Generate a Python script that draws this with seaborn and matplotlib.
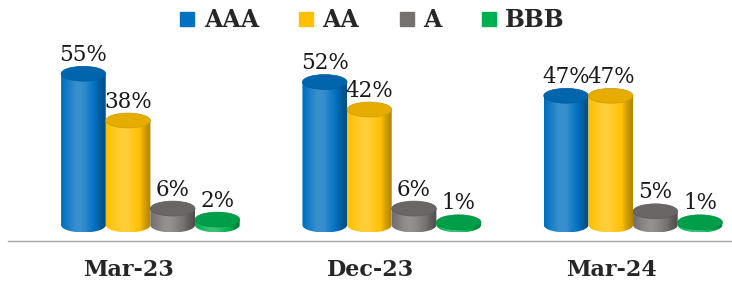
import numpy as np
import pandas as pd
import matplotlib
matplotlib.use('Agg')
import matplotlib.pyplot as plt
import matplotlib.colors as mcolors
from matplotlib.patches import Ellipse, Polygon
from matplotlib.lines import Line2D
import seaborn as sns

periodos = ['Mar-23', 'Dec-23', 'Mar-24']
ratings = ['AAA', 'AA', 'A', 'BBB']
aaa = [55, 52, 47]
aa = [38, 42, 47]
a = [6, 6, 5]
bbb = [2, 1, 1]
cores = ['#0070C0', '#FFC000', '#767171', '#00B050']

tabela = pd.DataFrame({
    'periodo': periodos * 4,
    'rating': sum([[r] * 3 for r in ratings], []),
    'valor': aaa + aa + a + bbb,
})

sns.set_style('white')
plt.rcParams['font.family'] = ['DejaVu Serif']

fig = plt.figure(figsize=(7.32, 2.85), dpi=100)
ax = fig.add_axes([8 / 732, 1 - 241 / 285, 1 - 8 / 732, 211 / 285])

sns.barplot(data=tabela, x='periodo', y='valor', hue='rating', order=periodos,
            hue_order=ratings, palette=cores, width=0.74, ax=ax, legend=False)

ax.set_xlim(-0.5, 2.5)
ax.set_ylim(-5.8, 70.9)

desloc = 0.09  # cilindros levemente deslocados p/ direita
eh = 5.4  # altura da elipse em unidades de dados


def sombra(cor, n=64):
    rgb = np.array(mcolors.to_rgb(cor))
    t = np.linspace(0, 1, n)
    f = np.exp(-((t - 0.4) / 0.3) ** 2) * 1.0 - 0.4 * (t ** 2) - 0.2 * ((1 - t) ** 3)
    linhas = []
    for v in f:
        if v >= 0:
            linhas.append(rgb + (1 - rgb) * 0.25 * v)
        else:
            linhas.append(rgb * (1 + 0.8 * v))
    return np.clip(np.array(linhas), 0, 1)[np.newaxis, :, :]


for k, cont in enumerate(ax.containers):
    cor = cores[k]
    for barra in cont:
        x0 = barra.get_x() + desloc
        w = barra.get_width()
        h = barra.get_height()
        barra.set_visible(False)
        xc = x0 + w / 2
        # contorno do corpo: topo reto, laterais, meia elipse embaixo
        ang = np.linspace(0, np.pi, 40)
        base = np.column_stack([xc + (w / 2) * np.cos(ang), -(eh / 2) * np.sin(ang)])
        pts = np.vstack([[x0 + w, h], base, [x0, h]])
        corpo = Polygon(pts, closed=True, facecolor='none', edgecolor='none')
        ax.add_patch(corpo)
        img = ax.imshow(sombra(cor), extent=[x0, x0 + w, -eh / 2, h], aspect='auto',
                        zorder=2 + k, interpolation='bilinear')
        img.set_clip_path(corpo)
        topo_rgb = np.array(mcolors.to_rgb(cor)) * 0.9
        ax.add_patch(Ellipse((xc, h), w, eh, facecolor=topo_rgb, edgecolor=np.array(mcolors.to_rgb(cor)) * 0.8,
                             linewidth=0.5, zorder=2 + k + 0.5))
        ax.text(xc, h + eh / 2 + 0.2, f'{h:.0f}%', ha='center', va='bottom',
                fontsize=15.5, color='#1a1a1a', zorder=10)

ax.set_xlabel('')
ax.set_ylabel('')
ax.set_yticks([])
ax.set_xticks([0, 1, 2])
ax.set_xticklabels(periodos, fontsize=16, fontweight='bold')
ax.tick_params(axis='x', which='major', length=0, pad=13)
ax.set_xticks([-0.5, 0.5, 1.5, 2.5], minor=True)
ax.tick_params(axis='x', which='minor', length=6, color='#A6A6A6', width=1)
for lado in ['top', 'right', 'left']:
    ax.spines[lado].set_visible(False)
ax.spines['bottom'].set_color('#A6A6A6')
ax.spines['bottom'].set_linewidth(1)

alcas = [Line2D([], [], marker='s', linestyle='none', markersize=10,
                markerfacecolor=c, markeredgecolor=c) for c in cores]
fig.legend(alcas, ratings, loc='upper center', bbox_to_anchor=(0.508, 1.045), ncol=4,
           frameon=False, prop={'weight': 'bold', 'size': 17}, handlelength=0.7,
           handletextpad=0.35, columnspacing=1.65)

fig.savefig('out.png', dpi=100)
